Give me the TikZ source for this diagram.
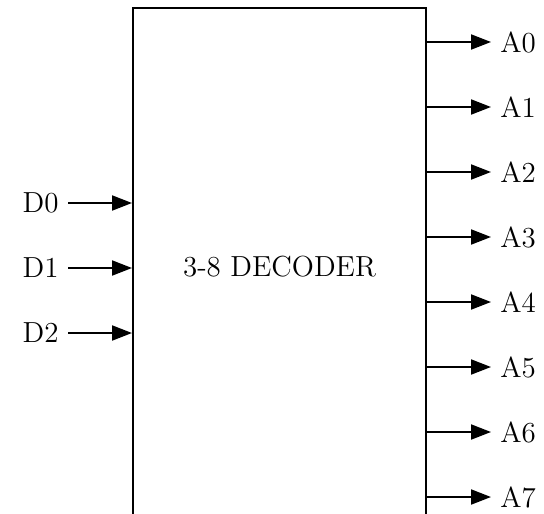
\documentclass[tikz,border=0pt]{standalone}
\usepackage{tikz}
\usetikzlibrary{arrows.meta,positioning}

\begin{document}
\begin{tikzpicture}[
  x=0.5pt, y=-0.5pt,
  font=\fontsize{14.5}{17}\selectfont,
  block/.style={
    draw,
    line width=1pt,
    minimum width=146.5pt,
    minimum height=259pt,
    inner sep=0pt
  },
  pin/.style={inner xsep=4.5pt, inner ysep=0pt},
  signal/.style={-{Triangle[length=10pt,width=7.5pt]}, line width=1pt}
]
\useasboundingbox (0,0) rectangle (544,513);
\clip (0,0) rectangle (544,513);

\node[block] (dec) at (279.5,267) {3-8 DECODER};

% inputs
\foreach \i in {0,1,2} {
  \node[pin, anchor=east] (D\i) at (68,203+65*\i) {D\i};
  \draw[signal] (D\i.east) -- (D\i -| dec.west);
}

% outputs
\foreach \i in {0,...,7} {
  \node[pin, anchor=west] (A\i) at (491,42+65*\i) {A\i};
  \draw[signal] (A\i -| dec.east) -- (A\i.west);
}

\end{tikzpicture}
\end{document}
